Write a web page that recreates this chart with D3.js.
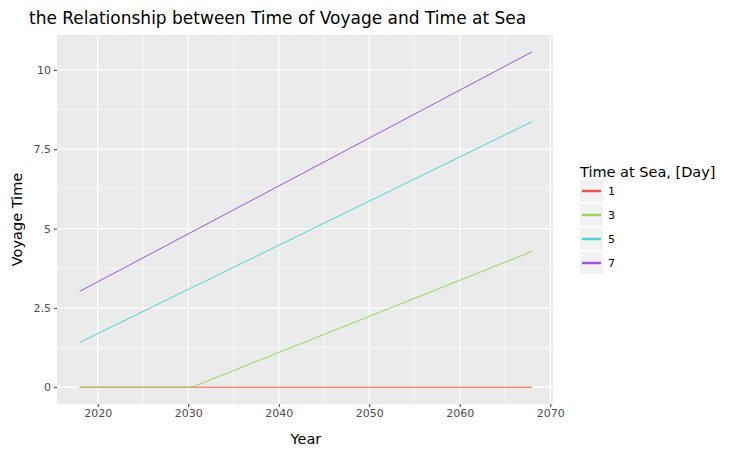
<!DOCTYPE html>
<html><head><meta charset="utf-8">
<script src="https://cdn.jsdelivr.net/npm/d3@7"></script>
<style>body{margin:0;background:#fff;font-family:"DejaVu Sans",sans-serif}</style>
</head><body>
<svg id="chart" width="750" height="456"></svg>
<script>
const seriesNames = ["1", "3", "5", "7"];
const colors = ["#e5574c", "#9bd35c", "#4fd3d7", "#9a55dc"];
const seriesYears = [
  [2018, 2068],
  [2018, 2030.4, 2068],
  [2018, 2019, 2068],
  [2018, 2019, 2068]
];
const seriesValues = [
  [0, 0],
  [0, 0, 4.28],
  [1.40, 1.55, 8.37],
  [3.02, 3.17, 10.57]
];
const xTicks = [2020, 2030, 2040, 2050, 2060, 2070];
const yTicks = [0, 2.5, 5, 7.5, 10];
const yTickLabels = ["0", "2.5", "5", "7.5", "10"];

const svg = d3.select("#chart");
const pL = 57, pR = 553, pT = 35, pB = 404;
const x = d3.scaleLinear().domain([2015.5, 2070.3]).range([pL, pR]);
const y = d3.scaleLinear().domain([-0.53, 11.1]).range([pB, pT]);

svg.append("rect").attr("x", pL).attr("y", pT).attr("width", pR - pL).attr("height", pB - pT).attr("fill", "#ebebeb");

const g = svg.append("g");
// minor grid
xTicks.slice(0, -1).forEach(t => g.append("line").attr("x1", x(t + 5)).attr("x2", x(t + 5)).attr("y1", pT).attr("y2", pB).attr("stroke", "#fff").attr("stroke-width", 0.6));
yTicks.forEach(t => g.append("line").attr("x1", pL).attr("x2", pR).attr("y1", y(t + 1.25)).attr("y2", y(t + 1.25)).attr("stroke", "#fff").attr("stroke-width", 0.6));
// major grid
xTicks.forEach(t => g.append("line").attr("x1", x(t)).attr("x2", x(t)).attr("y1", pT).attr("y2", pB).attr("stroke", "#fff").attr("stroke-width", 1.2));
yTicks.forEach(t => g.append("line").attr("x1", pL).attr("x2", pR).attr("y1", y(t)).attr("y2", y(t)).attr("stroke", "#fff").attr("stroke-width", 1.2));

const xAxis = svg.append("g").attr("transform", `translate(0,${pB})`).call(d3.axisBottom(x).tickValues(xTicks).tickFormat(d3.format("d")).tickSize(3).tickPadding(2));
const yAxis = svg.append("g").attr("transform", `translate(${pL},0)`).call(d3.axisLeft(y).tickValues(yTicks).tickFormat((d, i) => yTickLabels[i]).tickSize(3).tickPadding(3));
[xAxis, yAxis].forEach(a => {
  a.select(".domain").remove();
  a.selectAll("line").attr("stroke", "#333");
  a.selectAll("text").attr("fill", "#4d4d4d").style("font-size", "11px").style("font-family", "DejaVu Sans");
});

const line = d3.line().x(d => x(d[0])).y(d => y(d[1]));
seriesNames.forEach((n, i) => {
  const pts = seriesYears[i].map((yr, j) => [yr, seriesValues[i][j]]);
  svg.append("path").datum(pts).attr("d", line).attr("fill", "none").attr("stroke", colors[i]).attr("stroke-width", 1);
});

svg.append("text").attr("x", 29).attr("y", 24).text("the Relationship between Time of Voyage and Time at Sea").style("font-size", "17px").attr("fill", "#000");
svg.append("text").attr("x", x(2043)).attr("y", 444).attr("text-anchor", "middle").text("Year").style("font-size", "14.5px");
svg.append("text").attr("transform", `translate(22,${(pT + pB) / 2}) rotate(-90)`).attr("text-anchor", "middle").text("Voyage Time").style("font-size", "14.5px");

const lg = svg.append("g").attr("transform", "translate(580,0)");
lg.append("text").attr("x", 0).attr("y", 177).text("Time at Sea, [Day]").style("font-size", "14.5px");
seriesNames.forEach((n, i) => {
  const cy = 191 + i * 24;
  lg.append("rect").attr("x", 0).attr("y", cy - 11).attr("width", 23).attr("height", 22).attr("fill", "#f2f2f2");
  lg.append("line").attr("x1", 2).attr("x2", 21).attr("y1", cy).attr("y2", cy).attr("stroke", colors[i]).attr("stroke-width", 2.5);
  lg.append("text").attr("x", 28).attr("y", cy + 4).text(n).style("font-size", "11px").attr("fill", "#000");
});
</script>
</body></html>
